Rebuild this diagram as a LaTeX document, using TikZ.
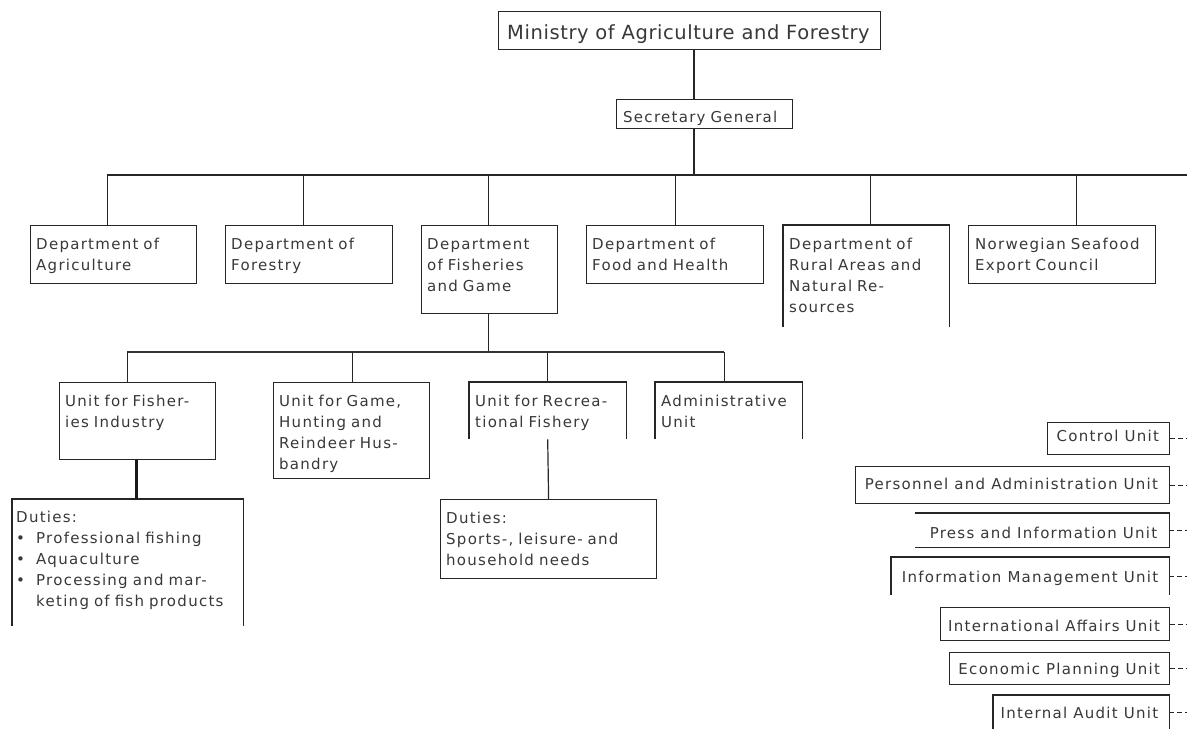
\documentclass[tikz,border=0pt]{standalone}
\usepackage{fontspec}
\newfontfamily\uf{DejaVu Sans}[LetterSpace=8.5]
\newfontfamily\mf{DejaVu Sans}[LetterSpace=3]
\begin{document}
\begin{tikzpicture}[x=1pt,y=-1pt,
  ln/.style={draw=black!85, line width=1.2pt},
  busln/.style={draw=black!85, line width=2pt},
  subln/.style={draw=black!80, line width=1.6pt},
  thickln/.style={draw=black!90, line width=2.8pt},
  dashln/.style={draw=black!85, line width=1.2pt, dash pattern=on 5pt off 3pt},
  fullbox/.style 2 args={draw=black!85, line width=1.2pt, anchor=north west, inner sep=0pt, minimum width=#1, minimum height=#2},
  openbox/.style 2 args={draw=none, anchor=north west, inner sep=0pt, minimum width=#1, minimum height=#2},
  lbl/.style={anchor=base west, inner sep=0pt, text width=300pt, align=left, font=\uf\fontsize{15}{21}\selectfont, text=black!78},
  rlbl/.style={anchor=base east, inner sep=0pt, font=\uf\fontsize{15}{21}\selectfont, text=black!78},
  mlbl/.style={anchor=base west, inner sep=0pt, font=\mf\fontsize{19.5}{24}\selectfont, text=black!78}
]
\useasboundingbox (0,0) rectangle (1187,729);

% ---- top ----
\node[fullbox={382}{38}] (min) at (498,11) {};
\node[mlbl] (min-t) at ([shift={(9,28)}]min.north west) {Ministry of Agriculture and Forestry};
\node[fullbox={176}{29}] (sec) at (616,99) {};
\node[lbl] (sec-t) at ([shift={(7,23)}]sec.north west) {Secretary General};

\coordinate (spine) at (694,0);
\coordinate (bus) at (107,175);
\coordinate (busend) at (1187,175);
\coordinate (redge) at (1187,0);

\draw[ln] (min.south -| spine) -- (sec.north -| spine);
\draw[ln] (sec.south -| spine) -- (bus -| spine);
\draw[busln] (bus) -- (busend);

% ---- departments ----
\node[fullbox={166}{58}] (agri) at (30,225) {};
\node[lbl] (agri-t) at ([shift={(6,24)}]agri.north west) {Department of\\Agriculture};
\node[fullbox={167}{58}] (forest) at (225,225) {};
\node[lbl] (forest-t) at ([shift={(6,24)}]forest.north west) {Department of\\Forestry};
\node[fullbox={136}{88}] (fish) at (421,225) {};
\node[lbl] (fish-t) at ([shift={(6,24)}]fish.north west) {Department\\of Fisheries\\and Game};
\node[fullbox={177}{58}] (food) at (586,225) {};
\node[lbl] (food-t) at ([shift={(6,24)}]food.north west) {Department of\\Food and Health};
\node[openbox={166}{102}] (rural) at (783,225) {};
\draw[ln] (rural.south west) -- (rural.north west) -- (rural.north east) -- (rural.south east);
\node[lbl] (rural-t) at ([shift={(6,24)}]rural.north west) {Department of\\Rural Areas and\\Natural Re-\\sources};
\node[fullbox={187}{58}] (nsec) at (968,225) {};
\node[lbl] (nsec-t) at ([shift={(7,24)}]nsec.north west) {Norwegian Seafood\\Export Council};

\draw[ln] ([xshift=-6]agri.north) -- ([xshift=-6]agri.north |- bus);
\draw[ln] ([xshift=-5.5]forest.north) -- ([xshift=-5.5]forest.north |- bus);
\draw[ln] ([xshift=-1]fish.north) -- ([xshift=-1]fish.north |- bus);
\draw[ln] (food.north) -- (food.north |- bus);
\draw[ln] ([xshift=4]rural.north) -- ([xshift=4]rural.north |- bus);
\draw[ln] ([xshift=14.5]nsec.north) -- ([xshift=14.5]nsec.north |- bus);

% ---- units ----
\coordinate (sub) at (127,352);
\coordinate (subend) at (724,352);
\draw[ln] ([xshift=-1]fish.south) -- ([xshift=-1]fish.south |- sub);
\draw[subln] (sub) -- (subend);

\node[fullbox={156}{77}] (ufi) at (59,382) {};
\node[lbl] (ufi-t) at ([shift={(6,24)}]ufi.north west) {Unit for Fisher-\\ies Industry};
\node[fullbox={156}{96}] (ugame) at (273,382) {};
\node[lbl] (ugame-t) at ([shift={(6,24)}]ugame.north west) {Unit for Game,\\Hunting and\\Reindeer Hus-\\bandry};
\node[openbox={157}{57}] (urec) at (469,382) {};
\draw[ln] (urec.south west) -- (urec.north west) -- (urec.north east) -- (urec.south east);
\node[lbl] (urec-t) at ([shift={(6,24)}]urec.north west) {Unit for Recrea-\\tional Fishery};
\node[openbox={147}{57}] (uadm) at (655,382) {};
\draw[ln] (uadm.south west) -- (uadm.north west) -- (uadm.north east) -- (uadm.south east);
\node[lbl] (uadm-t) at ([shift={(6,24)}]uadm.north west) {Administrative\\Unit};

\draw[ln] ([xshift=-10]ufi.north) -- ([xshift=-10]ufi.north |- sub);
\draw[ln] ([xshift=1]ugame.north) -- ([xshift=1]ugame.north |- sub);
\draw[ln] (urec.north) -- (urec.north |- sub);
\draw[ln] ([xshift=-4.5]uadm.north) -- ([xshift=-4.5]uadm.north |- sub);

% ---- duties ----
\node[openbox={231}{127}] (dut1) at (12,499) {};
\draw[ln] (dut1.south west) -- (dut1.north west) -- (dut1.north east) -- (dut1.south east);
\node[lbl] (dut1-t) at ([shift={(4,23)}]dut1.north west) {Duties:\\
\makebox[20pt][l]{•}Professional fishing\\
\makebox[20pt][l]{•}Aquaculture\\
\makebox[20pt][l]{•}Processing and mar-\\
\hspace*{20pt}keting of fish products};
\node[fullbox={216}{79}] (dut2) at (440,499) {};
\node[lbl] (dut2-t) at ([shift={(6,24)}]dut2.north west) {Duties:\\Sports-, leisure- and\\household needs};

\draw[thickln] ([xshift=-1]ufi.south) -- ([xshift=-1]ufi.south |- dut1.north);
\draw[ln] (urec.south) -- (dut2.north);

% ---- staff units on the right ----
\node[fullbox={122}{32}] (ctrl) at (1047,422) {};
\node[rlbl] (ctrl-t) at ([shift={(-11,19)}]ctrl.north east) {Control Unit};
\node[fullbox={314}{37}] (pers) at (855,466) {};
\node[rlbl] (pers-t) at ([shift={(-12,23)}]pers.north east) {Personnel and Administration Unit};
\node[openbox={254}{34}] (press) at (915,513) {};
\draw[ln] (press.north west) -- (press.north east) -- (press.south east) -- (press.south west);
\node[rlbl] (press-t) at ([shift={(-12,25)}]press.north east) {Press and Information Unit};
\node[openbox={278}{38}] (info) at (891,557) {};
\draw[ln] (info.south west) -- (info.north west) -- (info.north east) -- (info.south east);
\node[rlbl] (info-t) at ([shift={(-11,25)}]info.north east) {Information Management Unit};
\node[fullbox={229}{33}] (intl) at (940,607) {};
\node[rlbl] (intl-t) at ([shift={(-10,24)}]intl.north east) {International Affairs Unit};
\node[fullbox={220}{32}] (econ) at (949,652) {};
\node[rlbl] (econ-t) at ([shift={(-10,22)}]econ.north east) {Economic Planning Unit};
\node[openbox={176}{34}] (audit) at (993,695) {};
\draw[ln] (audit.south west) -- (audit.north west) -- (audit.north east) -- (audit.south east);
\node[rlbl] (audit-t) at ([shift={(-11,23)}]audit.north east) {Internal Audit Unit};

\foreach \u in {ctrl,pers,press,info,intl,econ,audit}
  \draw[dashln] (\u.east) -- (\u.east -| redge);
\end{tikzpicture}
\end{document}
